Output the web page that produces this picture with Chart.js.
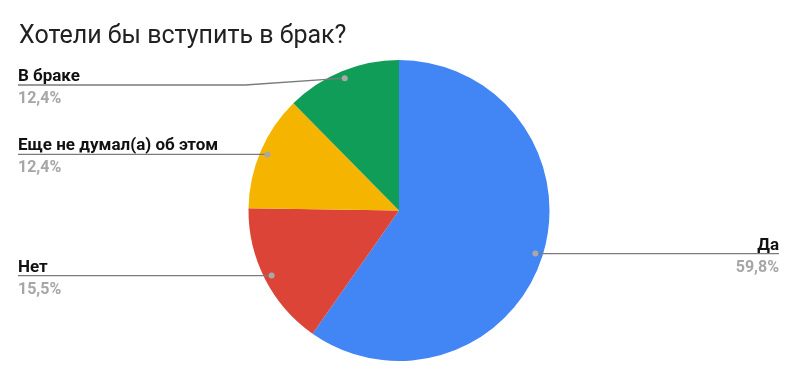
<!DOCTYPE html>
<html>
<head>
<meta charset="utf-8">
<script src="https://cdn.jsdelivr.net/npm/chart.js@4/dist/chart.umd.min.js"></script>
<style>
  html, body { margin: 0; padding: 0; background: #fff; }
  #wrap { width: 798px; height: 380px; position: relative; }
</style>
</head>
<body>
<div id="wrap"><canvas id="c" width="798" height="380"></canvas></div>
<script>
const chartTitle = 'Хотели бы вступить в брак?';
const categories = ['Да', 'Нет', 'Еще не думал(а) об этом', 'В браке'];
const shares = [59.8, 15.5, 12.4, 12.4];
const percentLabels = ['59,8%', '15,5%', '12,4%', '12,4%'];
const sliceColors = ['#4285F4', '#DB4437', '#F4B400', '#0F9D58'];

// Leader line heights; null means the line runs level with its marker dot.
const leaderY = [null, null, null, 85];

const calloutPlugin = {
  id: 'callouts',
  afterDraw(chart) {
    const ctx = chart.ctx;
    ctx.save();
    // title
    ctx.fillStyle = '#212121';
    ctx.font = '25px Roboto';
    ctx.textAlign = 'left';
    ctx.textBaseline = 'alphabetic';
    ctx.fillText(chartTitle, 19, 43);

    const arcs = chart.getDatasetMeta(0).data;
    arcs.forEach((arc, i) => {
      const p = arc.getProps(['x', 'y', 'startAngle', 'endAngle', 'outerRadius'], true);
      const mid = (p.startAngle + p.endAngle) / 2;
      const r = p.outerRadius * 0.95;
      const dx = p.x + Math.cos(mid) * r;
      const dy = p.y + Math.sin(mid) * r;
      const ly = leaderY[i] == null ? dy : leaderY[i];
      const left = Math.cos(mid) < 0;
      const endX = left ? 18 : 779;

      ctx.strokeStyle = '#7b7b7b';
      ctx.lineWidth = 1.3;
      ctx.beginPath();
      if (left) {
        ctx.moveTo(endX, ly);
        if (ly !== dy) ctx.lineTo(245, ly);
        ctx.lineTo(dx, dy);
      } else {
        ctx.moveTo(dx, dy);
        ctx.lineTo(endX, ly);
      }
      ctx.stroke();

      ctx.fillStyle = '#a8a8a8';
      ctx.beginPath();
      ctx.arc(dx, dy, 3, 0, Math.PI * 2);
      ctx.fill();

      ctx.textAlign = left ? 'left' : 'right';
      ctx.fillStyle = '#111';
      ctx.font = 'bold 17px Roboto';
      ctx.textBaseline = 'alphabetic';
      ctx.fillText(categories[i], endX, ly - 4);
      ctx.fillStyle = '#a6a6a6';
      ctx.font = 'bold 16px Roboto';
      ctx.textBaseline = 'top';
      ctx.fillText(percentLabels[i], endX, ly + 6);
    });
    ctx.restore();
  }
};

new Chart(document.getElementById('c'), {
  type: 'pie',
  data: {
    labels: categories,
    datasets: [{
      data: shares,
      backgroundColor: sliceColors,
      borderWidth: 0
    }]
  },
  options: {
    responsive: false,
    animation: false,
    layout: { padding: { top: 60, bottom: 19, left: 0, right: 0 } },
    plugins: {
      legend: { display: false },
      tooltip: { enabled: false },
      title: { display: false }
    }
  },
  plugins: [calloutPlugin]
});
</script>
</body>
</html>
